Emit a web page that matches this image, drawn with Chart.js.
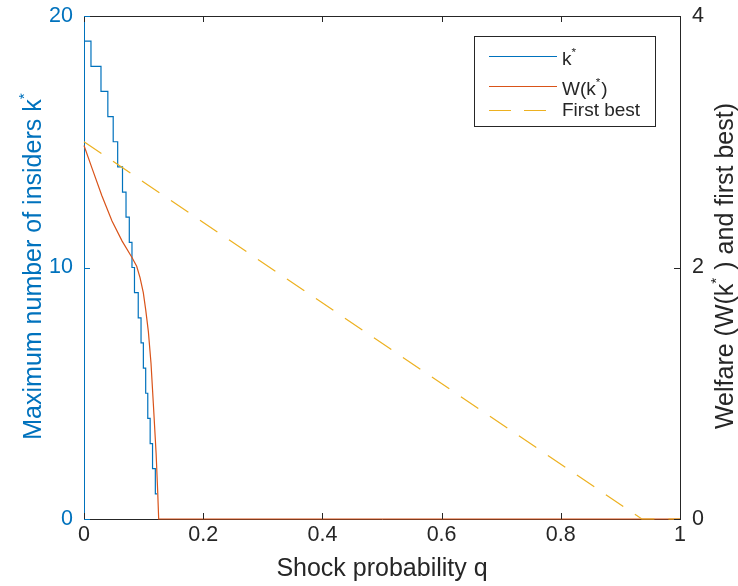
<!DOCTYPE html>
<html>
<head>
<meta charset="utf-8">
<script src="https://cdn.jsdelivr.net/npm/chart.js@4.4.1/dist/chart.umd.min.js"></script>
<style>
  html, body { margin: 0; padding: 0; background: #fff; }
  #wrap { width: 738px; height: 586px; }
</style>
</head>
<body>
<div id="wrap"><canvas id="c" width="738" height="586"></canvas></div>
<script>
// k* (left axis) - step function, value held until the next q
const kQ   = [0, 0.0117, 0.0285, 0.040, 0.049, 0.0565, 0.0646, 0.0705, 0.076, 0.0805, 0.0847, 0.091, 0.0957, 0.0996, 0.1035, 0.107, 0.111, 0.115, 0.1197, 0.1225];
const kVal = [19, 18, 17, 16, 15, 14, 13, 12, 11, 10, 9, 8, 7, 6, 5, 4, 3, 2, 1, 1];
// W(k*) (right axis)
const wQ   = [0, 0.0134, 0.030, 0.047, 0.064, 0.0805, 0.0884, 0.094, 0.0995, 0.1035, 0.108, 0.1124, 0.1163, 0.121, 0.1237, 0.1253, 1];
const wVal = [2.97, 2.79, 2.57, 2.37, 2.21, 2.08, 2.01, 1.92, 1.80, 1.665, 1.49, 1.24, 0.92, 0.52, 0.21, 0, 0];
// first best (right axis)
const fbQ   = [0, 0.936, 1];
const fbVal = [3, 0, 0];

const xTicks = [0, 0.2, 0.4, 0.6, 0.8, 1];
const leftTicks = [0, 10, 20];
const rightTicks = [0, 2, 4];

const BLUE = '#0072BD', ORANGE = '#D95319', YELLOW = '#EDB120', INK = '#262626';
const FAM = '"Liberation Sans", Arial, Helvetica, sans-serif';

const pts = (xs, ys) => xs.map((x, i) => ({ x: x, y: ys[i] }));
function font(size) { return size + 'px ' + FAM; }

// text pieces, some superscript, baseline at y=0
function richWidth(ctx, parts, size) {
  let w = 0;
  parts.forEach(p => { ctx.font = font(p.sup ? size * 0.62 : size); w += ctx.measureText(p.t).width + (p.sup ? 1 : 0); });
  return w;
}
function drawRich(ctx, parts, size, x0) {
  let x = x0;
  ctx.textBaseline = 'alphabetic';
  ctx.textAlign = 'left';
  parts.forEach(p => {
    ctx.font = font(p.sup ? size * 0.62 : size);
    ctx.fillText(p.t, x, p.sup ? -size * 0.5 : 0);
    x += ctx.measureText(p.t).width + (p.sup ? 1 : 0);
  });
}

const decor = {
  id: 'decor',
  afterDraw(chart) {
    const { ctx, chartArea: a, scales } = chart;
    ctx.save();
    ctx.lineWidth = 1;
    // top box line
    ctx.strokeStyle = INK;
    ctx.beginPath(); ctx.moveTo(a.left, a.top + 0.5); ctx.lineTo(a.right, a.top + 0.5); ctx.stroke();
    // inward tick marks
    const L = 6;
    xTicks.forEach(v => {
      const px = Math.round(scales.x.getPixelForValue(v)) + 0.5;
      ctx.beginPath();
      ctx.moveTo(px, a.bottom); ctx.lineTo(px, a.bottom - L);
      ctx.moveTo(px, a.top); ctx.lineTo(px, a.top + L);
      ctx.stroke();
    });
    ctx.strokeStyle = BLUE;
    leftTicks.forEach(v => {
      const py = Math.round(scales.y.getPixelForValue(v)) + 0.5;
      ctx.beginPath(); ctx.moveTo(a.left, py); ctx.lineTo(a.left + L, py); ctx.stroke();
    });
    ctx.strokeStyle = INK;
    rightTicks.forEach(v => {
      const py = Math.round(scales.y1.getPixelForValue(v)) + 0.5;
      ctx.beginPath(); ctx.moveTo(a.right, py); ctx.lineTo(a.right - L, py); ctx.stroke();
    });

    // axis titles
    const TS = 25;
    ctx.fillStyle = INK;
    let parts = [{ t: 'Shock probability q' }];
    ctx.save();
    ctx.translate((a.left + a.right) / 2, 576);
    drawRich(ctx, parts, TS, -richWidth(ctx, parts, TS) / 2);
    ctx.restore();

    ctx.fillStyle = BLUE;
    parts = [{ t: 'Maximum number of insiders k' }, { t: '*', sup: true }];
    ctx.save();
    ctx.translate(41, 266);
    ctx.rotate(-Math.PI / 2);
    drawRich(ctx, parts, TS, -richWidth(ctx, parts, TS) / 2);
    ctx.restore();

    ctx.fillStyle = INK;
    parts = [{ t: 'Welfare (W(k' }, { t: '*', sup: true }, { t: ' ) and first best)' }];
    ctx.save();
    ctx.translate(733, 266);
    ctx.rotate(-Math.PI / 2);
    drawRich(ctx, parts, TS, -richWidth(ctx, parts, TS) / 2);
    ctx.restore();

    // legend
    const bx = 474.5, by = 36.5, bw = 181, bh = 90;
    ctx.fillStyle = '#fff';
    ctx.fillRect(bx, by, bw, bh);
    ctx.strokeStyle = INK;
    ctx.strokeRect(bx, by, bw, bh);
    const rows = [
      { c: BLUE, dash: [], ly: 56.5, base: 65, parts: [{ t: 'k' }, { t: '*', sup: true }] },
      { c: ORANGE, dash: [], ly: 86.5, base: 95, parts: [{ t: 'W(k' }, { t: '*', sup: true }, { t: ')' }] },
      { c: YELLOW, dash: [22, 13], ly: 110.5, base: 116, parts: [{ t: 'First best' }] }
    ];
    const LS = 19;
    rows.forEach(r => {
      ctx.strokeStyle = r.c;
      ctx.lineWidth = 1.2;
      ctx.setLineDash(r.dash);
      ctx.beginPath(); ctx.moveTo(489, r.ly); ctx.lineTo(557, r.ly); ctx.stroke();
      ctx.setLineDash([]);
      ctx.fillStyle = INK;
      ctx.save();
      ctx.translate(562, r.base);
      drawRich(ctx, r.parts, LS, 0);
      ctx.restore();
    });
    ctx.restore();
  }
};

const fixTicks = list => (scale => { scale.ticks = list.map(v => ({ value: v })); });
const fmt = v => String(+Number(v).toFixed(1));
// fixed axis sizes, no label overhang padding
const fitY = w => (s => { s.width = w; s.paddingTop = 0; s.paddingBottom = 0; });

new Chart(document.getElementById('c'), {
  type: 'line',
  data: {
    datasets: [
      {
        label: 'First best',
        data: pts(fbQ, fbVal),
        yAxisID: 'y1',
        borderColor: YELLOW,
        borderWidth: 1.2,
        borderDash: [21, 14],
        pointRadius: 0,
        fill: false,
        clip: 3
      },
      {
        label: 'W(k*)',
        data: pts(wQ, wVal),
        yAxisID: 'y1',
        borderColor: ORANGE,
        borderWidth: 1.2,
        pointRadius: 0,
        tension: 0,
        fill: false,
        clip: 3
      },
      {
        label: 'k*',
        data: pts(kQ, kVal),
        yAxisID: 'y',
        borderColor: BLUE,
        borderWidth: 1.2,
        stepped: 'before',
        pointRadius: 0,
        fill: false,
        clip: 3
      }
    ]
  },
  options: {
    responsive: false,
    animation: false,
    layout: { padding: { top: 16, right: 0, left: 0, bottom: 0 } },
    plugins: { legend: { display: false }, tooltip: { enabled: false } },
    scales: {
      x: {
        type: 'linear', min: 0, max: 1,
        afterBuildTicks: fixTicks(xTicks),
        afterFit: s => { s.height = 67; },
        grid: { display: false, drawTicks: false },
        border: { display: true, color: INK, width: 1 },
        ticks: { color: INK, font: { family: FAM, size: 21.5 }, padding: 3, maxRotation: 0, callback: fmt }
      },
      y: {
        type: 'linear', position: 'left', min: 0, max: 20,
        afterBuildTicks: fixTicks(leftTicks),
        afterFit: fitY(84),
        grid: { display: false, drawTicks: false },
        border: { display: true, color: BLUE, width: 1 },
        ticks: { color: BLUE, font: { family: FAM, size: 21.5 }, padding: 11, callback: fmt }
      },
      y1: {
        type: 'linear', position: 'right', min: 0, max: 4,
        afterBuildTicks: fixTicks(rightTicks),
        afterFit: fitY(58),
        grid: { display: false, drawTicks: false },
        border: { display: true, color: INK, width: 1 },
        ticks: { color: INK, font: { family: FAM, size: 21.5 }, padding: 12, callback: fmt }
      }
    }
  },
  plugins: [decor]
});
</script>
</body>
</html>
